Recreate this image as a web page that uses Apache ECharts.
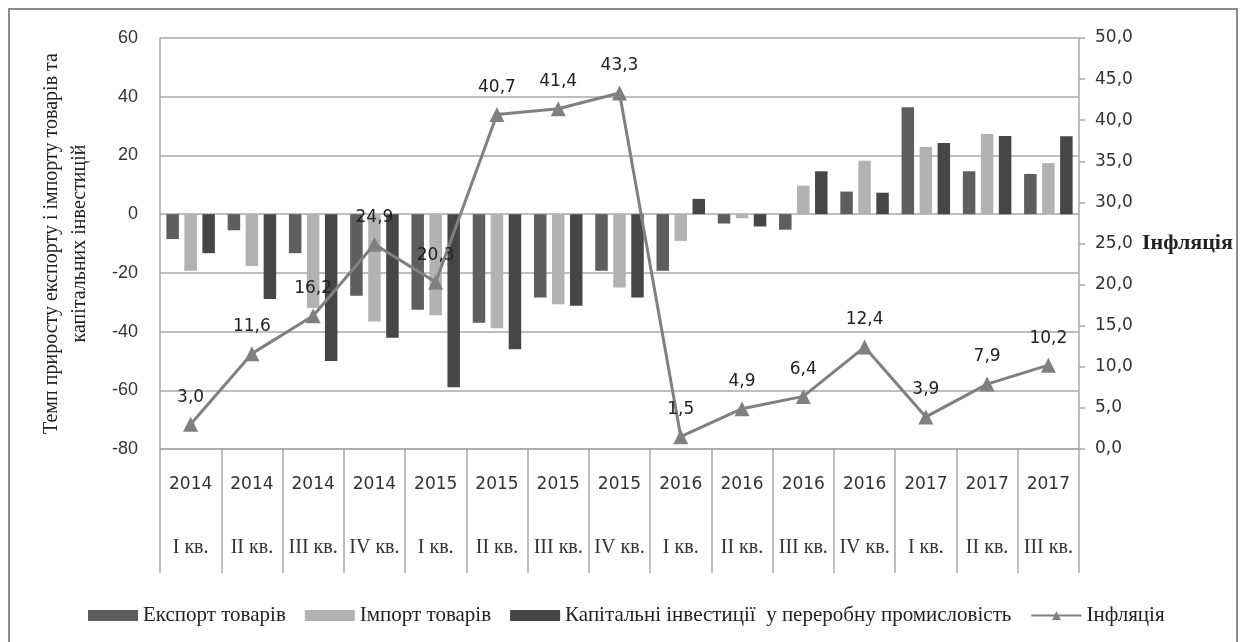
<!DOCTYPE html>
<html>
<head>
<meta charset="utf-8">
<script src="https://cdn.jsdelivr.net/npm/echarts@6/dist/echarts.min.js"></script>
<style>
  html, body { margin: 0; padding: 0; background: #fff; }
  #chart { width: 1244px; height: 642px; }
</style>
</head>
<body>
<div id="chart"></div>
<script>
const years = ['2014', '2014', '2014', '2014', '2015', '2015', '2015', '2015',
  '2016', '2016', '2016', '2016', '2017', '2017', '2017']
const quarters = ['I кв.', 'II кв.', 'III кв.', 'IV кв.', 'I кв.', 'II кв.', 'III кв.', 'IV кв.',
  'I кв.', 'II кв.', 'III кв.', 'IV кв.', 'I кв.', 'II кв.', 'III кв.']

const exportGoods = [-8.5, -5.5, -13.3, -27.8, -32.6, -37, -28.4, -19.3, -19.3, -3.2, -5.3, 7.7, 36.4, 14.6, 13.7]
const importGoods = [-19.3, -17.7, -32, -36.6, -34.4, -38.9, -30.7, -25, -9.1, -1.4, 9.7, 18.2, 22.9, 27.3, 17.4]
const capitalInvest = [-13.3, -28.9, -50, -42.1, -59, -46, -31.2, -28.4, 5.2, -4.2, 14.6, 7.3, 24.2, 26.6, 26.5]
const inflation = [3.0, 11.6, 16.2, 24.9, 20.3, 40.7, 41.4, 43.3, 1.5, 4.9, 6.4, 12.4, 3.9, 7.9, 10.2]

const categories = years.map((y, i) => y + '|' + quarters[i])

const gridColor = '#a8a8a8'
const comma = (v) => v.toFixed(1).replace('.', ',')

const chart = echarts.init(document.getElementById('chart'), null, { renderer: 'canvas' })

const barSeries = (name, data, color) => ({
  name: name,
  type: 'bar',
  data: data,
  barWidth: 12.5,
  barGap: '44%',
  itemStyle: { color: color },
  z: 2
})

chart.setOption({
  animation: false,
  backgroundColor: '#fff',
  graphic: [{
    type: 'rect',
    shape: { x: 9, y: 9, width: 1228, height: 660 },
    style: { fill: 'none', stroke: '#8c8c8c', lineWidth: 2 },
    silent: true
  }],
  grid: { left: 160, right: 165, top: 38, bottom: 193 },
  legend: {
    left: 83,
    top: 600,
    itemWidth: 50,
    itemHeight: 11,
    itemGap: 19,
    textStyle: { fontFamily: 'Liberation Serif', fontSize: 21, color: '#222' },
    data: [
      { name: 'Експорт товарів', icon: 'rect' },
      { name: 'Імпорт товарів', icon: 'rect' },
      { name: 'Капітальні інвестиції  у переробну промисловість', icon: 'rect' },
      { name: 'Інфляція' }
    ]
  },
  xAxis: {
    type: 'category',
    data: categories,
    position: 'bottom',
    axisLine: { onZero: false, lineStyle: { color: gridColor, width: 1.5 } },
    axisTick: { show: true, interval: 0, length: 124, lineStyle: { color: gridColor, width: 1.5 } },
    axisLabel: {
      interval: 0,
      margin: 4,
      formatter: (v) => {
        const [y, q] = v.split('|')
        return '{y|' + y + '}\n{q|' + q + '}'
      },
      rich: {
        y: { fontFamily: 'DejaVu Sans', fontSize: 17, lineHeight: 63, color: '#333' },
        q: { fontFamily: 'Liberation Serif', fontSize: 20, lineHeight: 63, color: '#333' }
      }
    }
  },
  yAxis: [
    {
      type: 'value',
      min: -80,
      max: 60,
      interval: 20,
      name: 'Темп приросту експорту і імпорту товарів та\nкапітальних інвестицій',
      nameLocation: 'middle',
      nameGap: 66,
      nameTextStyle: { fontFamily: 'Liberation Serif', fontSize: 20, lineHeight: 28, color: '#222' },
      axisLine: { show: true, lineStyle: { color: gridColor, width: 1.5 } },
      axisTick: { show: false },
      axisLabel: { fontFamily: 'Liberation Sans', fontSize: 18, color: '#333', margin: 22 },
      splitLine: { lineStyle: { color: gridColor, width: 1.5 } }
    },
    {
      type: 'value',
      min: 0,
      max: 50,
      interval: 5,
      name: 'Інфляція',
      nameLocation: 'middle',
      nameRotate: 0,
      nameGap: 63,
      nameTextStyle: { fontFamily: 'Liberation Serif', fontSize: 22, fontWeight: 'bold', color: '#222' },
      axisLine: { show: true, lineStyle: { color: gridColor, width: 1.5 } },
      axisTick: { show: true, length: 6, lineStyle: { color: gridColor, width: 1.5 } },
      axisLabel: { fontFamily: 'DejaVu Sans', fontSize: 17, color: '#333', margin: 16, formatter: comma },
      splitLine: { show: false }
    }
  ],
  series: [
    barSeries('Експорт товарів', exportGoods, '#5e5e5e'),
    barSeries('Імпорт товарів', importGoods, '#b2b2b2'),
    barSeries('Капітальні інвестиції  у переробну промисловість', capitalInvest, '#464646'),
    {
      name: 'Інфляція',
      type: 'line',
      yAxisIndex: 1,
      data: inflation,
      symbol: 'triangle',
      symbolSize: 15,
      z: 5,
      lineStyle: { color: '#808080', width: 3 },
      itemStyle: { color: '#808080' },
      label: {
        show: true,
        position: 'top',
        distance: 11,
        fontFamily: 'DejaVu Sans',
        fontSize: 17,
        color: '#222',
        formatter: (p) => comma(p.value)
      }
    }
  ]
})
</script>
</body>
</html>
